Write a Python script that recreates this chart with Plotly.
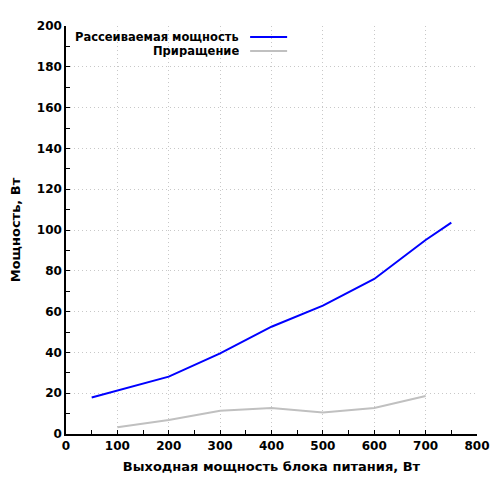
import plotly.graph_objects as go

# Рассеиваемая мощность (по выходной мощности БП)
power_x = [50, 100, 200, 300, 400, 500, 600, 700, 750]
power_y = [17.9, 21.2, 28.1, 39.5, 52.6, 62.9, 76.0, 95.1, 103.6]

# Приращение
delta_x = [100, 200, 300, 400, 500, 600, 700]
delta_y = [3.3, 6.9, 11.4, 12.7, 10.5, 12.7, 18.6]

names = ["Рассеиваемая мощность", "Приращение"]
colors = ["#0000ff", "#c0c0c0"]

font = "DejaVu Sans"

fig = go.Figure()
fig.add_trace(go.Scatter(x=power_x, y=power_y, mode="lines", name=names[0],
                         line=dict(color=colors[0], width=2)))
fig.add_trace(go.Scatter(x=delta_x, y=delta_y, mode="lines", name=names[1],
                         line=dict(color=colors[1], width=2)))

# легенда: текст справа налево, образец линии справа
for i, (n, c) in enumerate(zip(names, colors)):
    yy = 0.973 - i * 0.0343
    fig.add_annotation(xref="paper", yref="paper", x=0.424, y=yy, text="<b>" + n + "</b>",
                       showarrow=False, xanchor="right", yanchor="middle",
                       height=12, borderpad=0,
                       font=dict(family=font, size=11.5, color="black"))
    fig.add_shape(type="line", xref="paper", yref="paper", x0=0.448, x1=0.538, y0=yy, y1=yy,
                  line=dict(color=c, width=2))

grid = dict(showgrid=True, gridcolor="#c8c8c8", griddash="1px,3px", gridwidth=1)

fig.update_xaxes(range=[0, 800], dtick=100, ticks="inside", ticklen=4, tickcolor="black",
                 showline=True, linecolor="black", linewidth=1.5, zeroline=False, **grid,
                 automargin=False,
                 minor=dict(dtick=50, ticks="inside", ticklen=4, tickcolor="black", showgrid=False),
                 tickfont=dict(family=font, size=12, color="black", weight="bold"),
                 title=dict(text="<b>Выходная мощность блока питания, Вт</b>",
                            font=dict(family=font, size=13, color="black"), standoff=10))
fig.update_yaxes(range=[0, 200], dtick=20, ticks="inside", ticklen=4, tickcolor="black",
                 showline=True, linecolor="black", linewidth=1.5, zeroline=False, **grid,
                 automargin=False,
                 minor=dict(dtick=10, ticks="inside", ticklen=4, tickcolor="black", showgrid=False),
                 tickfont=dict(family=font, size=12, color="black", weight="bold"),
                 title=dict(text="<b>Мощность, Вт</b>",
                            font=dict(family=font, size=13, color="black"), standoff=18))

fig.update_layout(width=484, height=484, showlegend=False,
                  margin=dict(l=58, r=15, t=18, b=58),
                  plot_bgcolor="white", paper_bgcolor="white")
fig.write_html("out.html")
